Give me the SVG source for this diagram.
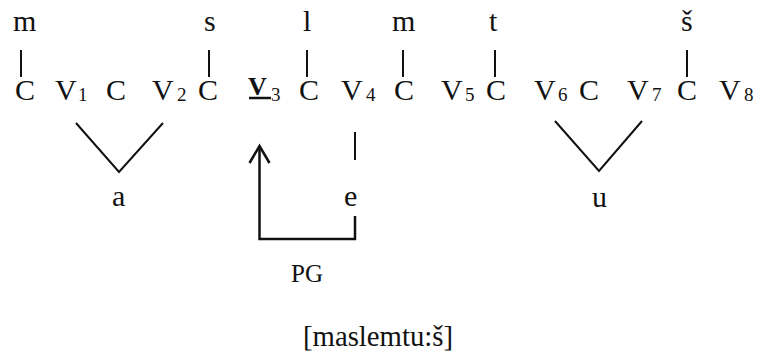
<svg xmlns="http://www.w3.org/2000/svg" width="759" height="358" viewBox="0 0 759 358">
<style>
text{font-family:"Liberation Serif","Times New Roman",serif;fill:#111}
.t{font-size:30px}
.s{font-size:19px}
.b{font-weight:bold}
.ln{stroke:#111;stroke-width:2;fill:none}
.ar{stroke:#111;stroke-width:2.5;fill:none}
</style>
<rect width="759" height="358" fill="#fff"/>
<g id="segments">
<text class="t" x="13" y="31">m</text>
<text class="t" x="204" y="31">s</text>
<text class="t" x="303" y="31">l</text>
<text class="t" x="392" y="31">m</text>
<text class="t" x="489" y="31">t</text>
<text class="t" x="681" y="31">š</text>
</g>
<g id="skeleton">
<text class="t" x="15" y="100">C</text>
<text class="t" x="55" y="100">V</text><text class="s" x="78" y="101">1</text>
<text class="t" x="106" y="100">C</text>
<text class="t" x="152" y="100">V</text><text class="s" x="177" y="101">2</text>
<text class="t" x="198" y="100">C</text>
<text class="t b" x="248" y="95" style="font-size:26px">V</text><text class="s" x="271" y="101">3</text>
<line x1="249" y1="98" x2="271" y2="98" stroke="#111" stroke-width="2.5"/>
<text class="t" x="299" y="100">C</text>
<text class="t" x="341" y="100">V</text><text class="s" x="366" y="101">4</text>
<text class="t" x="394" y="100">C</text>
<text class="t" x="441" y="100">V</text><text class="s" x="465" y="101">5</text>
<text class="t" x="486" y="100">C</text>
<text class="t" x="534" y="100">V</text><text class="s" x="558" y="101">6</text>
<text class="t" x="579" y="100">C</text>
<text class="t" x="627" y="100">V</text><text class="s" x="652" y="101">7</text>
<text class="t" x="677" y="100">C</text>
<text class="t" x="719" y="100">V</text><text class="s" x="744" y="101">8</text>
</g>
<g id="vowels">
<text class="t" x="112" y="206">a</text>
<text class="t" x="344" y="206">e</text>
<text class="t" x="592" y="207">u</text>
</g>
<g id="connectors">
<line class="ln" x1="21" y1="50" x2="21" y2="77"/>
<line class="ln" x1="209" y1="50" x2="209" y2="77"/>
<line class="ln" x1="307" y1="50" x2="307" y2="77"/>
<line class="ln" x1="403" y1="50" x2="403" y2="77"/>
<line class="ln" x1="495" y1="50" x2="495" y2="77"/>
<line class="ln" x1="687" y1="50" x2="687" y2="77"/>
<polyline class="ln" points="76,123 119,172 163,123"/>
<polyline class="ln" points="555,121 599,171 642,121"/>
<line class="ln" x1="355" y1="132" x2="355" y2="160"/>
<polyline class="ar" points="355,216 355,239 259.5,239 259.5,146"/>
<polyline class="ar" points="249.5,163 259.5,146 269.5,163"/>
</g>
<g id="labels">
<text class="t" x="307" y="282" text-anchor="middle" style="font-size:25px">PG</text>
<text class="t" x="378" y="346" text-anchor="middle" textLength="150" lengthAdjust="spacingAndGlyphs">[maslemtu:š]</text>
</g>
</svg>
